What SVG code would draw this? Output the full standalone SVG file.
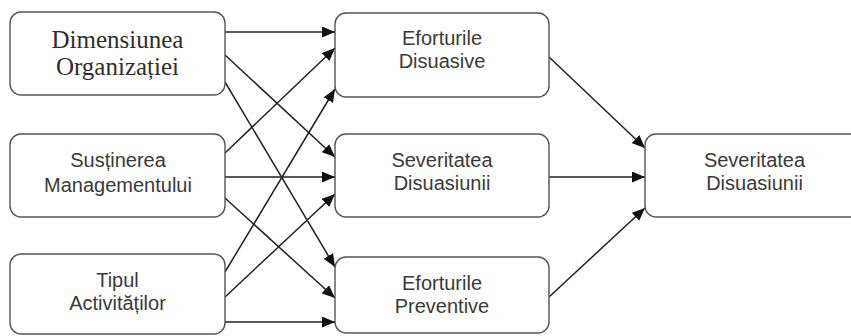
<svg xmlns="http://www.w3.org/2000/svg" width="851" height="336" viewBox="0 0 851 336">
  <style>
    .box { fill: #ffffff; stroke: #555555; stroke-width: 1.4; }
    .lbl { font-family: "Liberation Sans", Arial, sans-serif; font-size: 20px; fill: #3a3a3a; text-anchor: middle; }
    .serif { font-family: "Liberation Serif", "Times New Roman", serif; font-size: 25px; fill: #2e2e2e; text-anchor: middle; }
    .edge { stroke: #222222; stroke-width: 1.5; fill: none; marker-end: url(#arrow); }
  </style>
  <defs>
    <marker id="arrow" markerUnits="userSpaceOnUse" markerWidth="13" markerHeight="11" refX="13" refY="5.5" orient="auto">
      <path d="M0,0 L13,5.5 L0,11 Z" fill="#111111"/>
    </marker>
  </defs>
  <rect width="851" height="336" fill="#ffffff"/>

  <g id="connectors">
    <line class="edge" x1="225" y1="32" x2="335" y2="32"/>
    <line class="edge" x1="225" y1="55" x2="335" y2="157"/>
    <line class="edge" x1="225" y1="82" x2="335" y2="267"/>
    <line class="edge" x1="225" y1="153" x2="335" y2="48"/>
    <line class="edge" x1="225" y1="177" x2="335" y2="177"/>
    <line class="edge" x1="225" y1="198" x2="335" y2="298"/>
    <line class="edge" x1="225" y1="272" x2="335" y2="89"/>
    <line class="edge" x1="225" y1="297" x2="335" y2="194"/>
    <line class="edge" x1="225" y1="322" x2="335" y2="322"/>
    <line class="edge" x1="549" y1="57" x2="645" y2="148"/>
    <line class="edge" x1="549" y1="177" x2="645" y2="177"/>
    <line class="edge" x1="549" y1="297" x2="645" y2="208"/>
  </g>

  <g id="dimensiunea">
    <rect class="box" x="10" y="12" width="215" height="83" rx="11"/>
    <text class="serif" x="117.5" y="48">Dimensiunea</text>
    <text class="serif" x="117.5" y="75">Organizației</text>
  </g>
  <g id="sustinerea">
    <rect class="box" x="10" y="134" width="215" height="83" rx="11"/>
    <text class="lbl" x="118" y="167">Susținerea</text>
    <text class="lbl" x="118" y="192">Managementului</text>
  </g>
  <g id="tipul">
    <rect class="box" x="10" y="254" width="215" height="80" rx="11"/>
    <text class="lbl" x="117.5" y="287">Tipul</text>
    <text class="lbl" x="117.5" y="310">Activităților</text>
  </g>

  <g id="eforturile-disuasive">
    <rect class="box" x="335" y="13" width="214" height="84" rx="11"/>
    <text class="lbl" x="442" y="45">Eforturile</text>
    <text class="lbl" x="442" y="68">Disuasive</text>
  </g>
  <g id="severitatea-mid">
    <rect class="box" x="335" y="134" width="214" height="83" rx="11"/>
    <text class="lbl" x="442" y="167">Severitatea</text>
    <text class="lbl" x="442" y="190">Disuasiunii</text>
  </g>
  <g id="eforturile-preventive">
    <rect class="box" x="335" y="257" width="214" height="76" rx="11"/>
    <text class="lbl" x="442" y="290">Eforturile</text>
    <text class="lbl" x="442" y="313">Preventive</text>
  </g>

  <g id="severitatea-out">
    <rect class="box" x="645" y="134" width="219" height="83" rx="11"/>
    <text class="lbl" x="754.5" y="167">Severitatea</text>
    <text class="lbl" x="754.5" y="190">Disuasiunii</text>
  </g>
</svg>
